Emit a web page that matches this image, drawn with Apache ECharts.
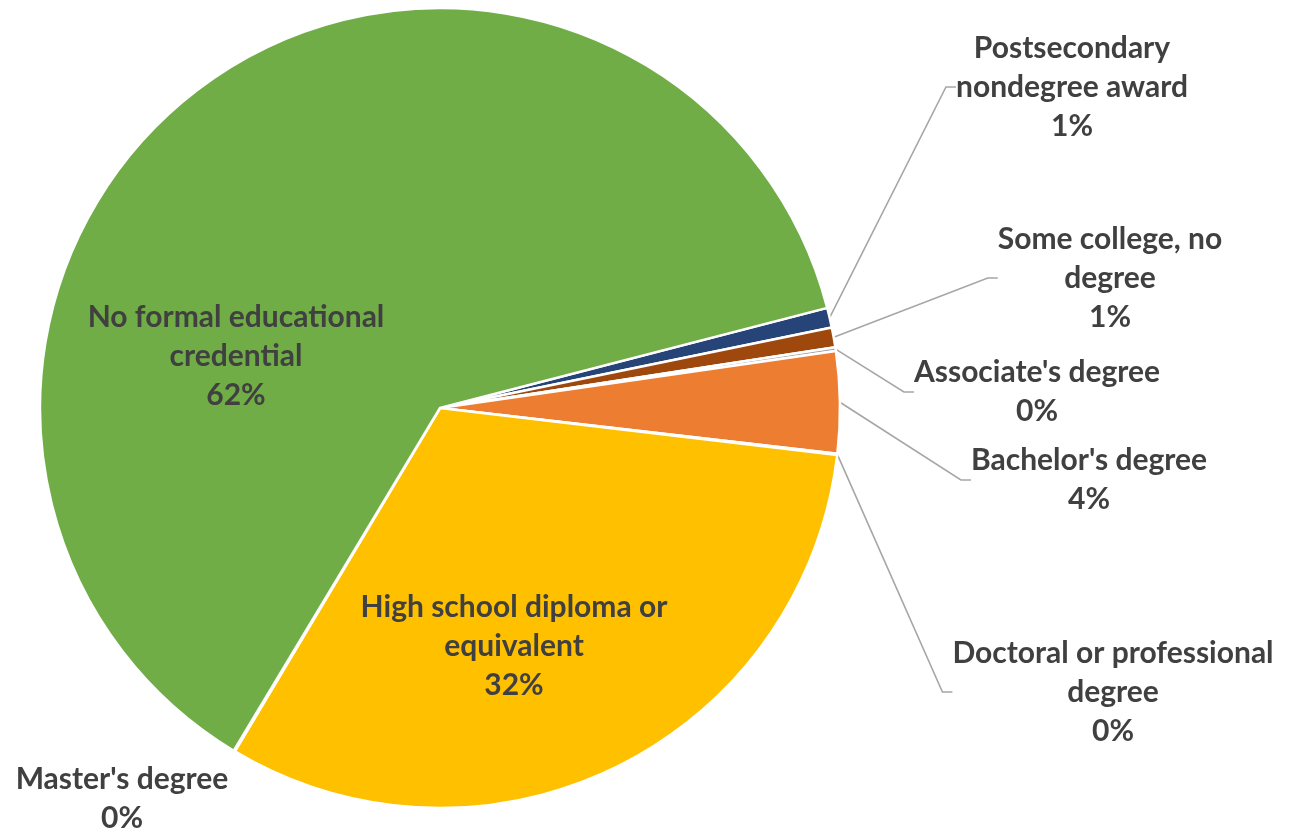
<!DOCTYPE html>
<html>
<head>
<meta charset="utf-8">
<script src="https://cdn.jsdelivr.net/npm/echarts@6/dist/echarts.min.js"></script>
<style>
html, body { margin: 0; padding: 0; background: #fff; }
#main { width: 1291px; height: 831px; }
</style>
</head>
<body>
<div id="main"></div>
<script>
// slices in clockwise order, starting just right of 12 o'clock
var categories = [
    "Postsecondary nondegree award",
    "Some college, no degree",
    "Associate's degree",
    "Bachelor's degree",
    "Doctoral or professional degree",
    "High school diploma or equivalent",
    "Master's degree",
    "No formal educational credential"
];
var labelTexts = [
    "Postsecondary\nnondegree award",
    "Some college, no\ndegree",
    "Associate's degree",
    "Bachelor's degree",
    "Doctoral or professional\ndegree",
    "High school diploma or\nequivalent",
    "Master's degree",
    "No formal educational\ncredential"
];
var shares = [0.8, 0.8, 0.15, 4.1, 0.05, 31.7, 0.05, 62.35];
var colors = ["#264478", "#9E480E", "#A5A5A5", "#ED7D31", "#636363", "#FFC000", "#997300", "#70AD47"];
var insideLabels = [5, 7];
var noLine = [5, 6, 7];

// where the label text blocks sit (centres)
var labelPos = [[1072, 87], [1110, 278], [1037, 392], [1089, 480], [1113, 692], [514, 646], [122, 799], [236, 356]];

var myChart = echarts.init(document.getElementById("main"));

var seriesData = categories.map(function (name, i) {
    return {
        name: name,
        value: shares[i],
        itemStyle: { color: colors[i] },
        label: { position: insideLabels.indexOf(i) >= 0 ? "inside" : "outside" },
        labelLine: { show: noLine.indexOf(i) < 0 }
    };
});

var option = {
    animation: false,
    series: [{
        type: "pie",
        center: [440, 408],
        radius: 400,
        startAngle: 14.5,
        clockwise: true,
        avoidLabelOverlap: false,
        itemStyle: {
            borderColor: "#fff",
            borderWidth: 2.5
        },
        label: {
            show: true,
            fontFamily: "Lato",
            fontWeight: "bold",
            fontSize: 30,
            lineHeight: 39,
            color: "#404040",
            align: "center",
            formatter: function (p) {
                return labelTexts[p.dataIndex] + "\n" + Math.round(p.percent) + "%";
            }
        },
        labelLine: {
            length: 20,
            length2: 10,
            lineStyle: { color: "#A6A6A6", width: 1.6 }
        },
        labelLayout: function (params) {
            var p = labelPos[params.dataIndex];
            return { x: p[0], y: p[1], align: "center", verticalAlign: "middle" };
        },
        data: seriesData
    }]
};
myChart.setOption(option);
</script>
</body>
</html>
